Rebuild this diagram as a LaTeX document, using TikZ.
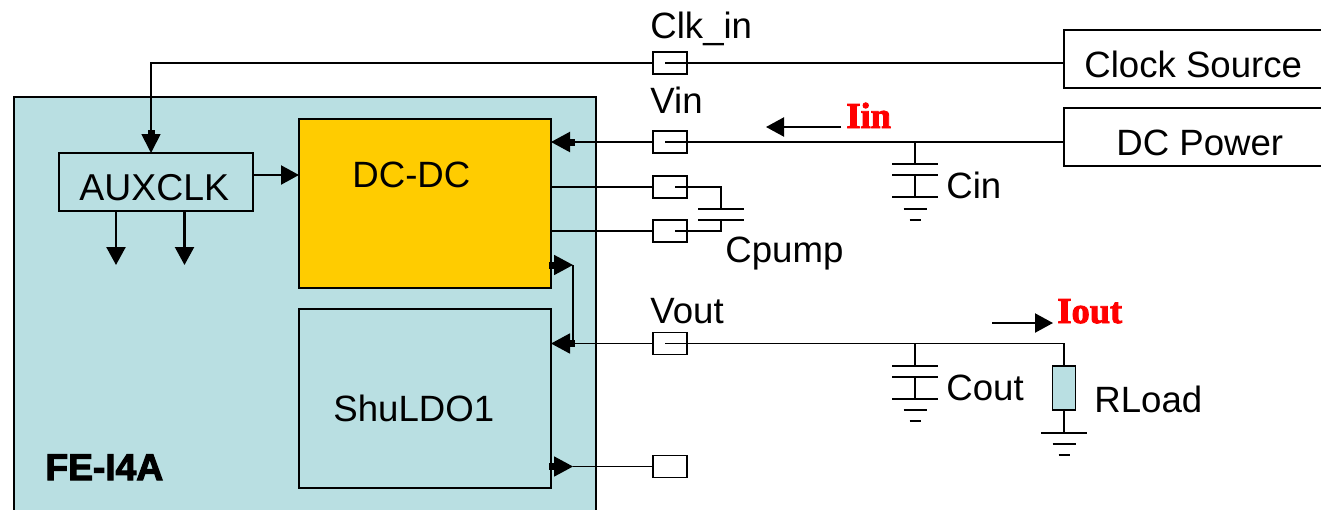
\documentclass[tikz,border=0pt]{standalone}
\usepackage{fontspec}
\setmainfont{Liberation Sans}
\newfontfamily\feifont[FakeBold=3]{Liberation Sans}
\newfontfamily\currfont[FakeBold=2.5]{Liberation Serif}
\usetikzlibrary{arrows.meta}
\definecolor{chipblue}{HTML}{B9DFE2}
\definecolor{dcyellow}{HTML}{FFCC00}
\tikzset{
  wire/.style={black,line width=0.9pt},
  powerwire/.style={black,line width=1.1pt},
  block/.style={draw=black,line width=0.8pt,inner sep=0pt},
  padbox/.style={draw=black,fill=white,line width=0.9pt,inner sep=0pt,minimum width=17pt,minimum height=11pt},
  lbl/.style={anchor=base west,inner sep=0pt,font=\fontsize{18.3}{20}\selectfont},
  curr/.style={anchor=base west,inner sep=0pt,text=red,font=\fontsize{18.2}{20}\currfont\bfseries},
  headed/.style={-{Rectangle[length=2.5pt,width=3.5pt]Triangle[length=9.5pt,width=10pt]}},
  plain/.style={-{Triangle[length=9pt,width=9.5pt]}}
}
\begin{document}
\begin{tikzpicture}[x=0.5pt,y=-0.5pt]
\clip (0,0) rectangle (1321,509);
\node[block,fill=chipblue,minimum width=291pt,minimum height=215pt] (chip) at (305,312) {};
\node[block,minimum width=97pt,minimum height=29pt] (auxclk) at (156,182) {};
\node[block,fill=dcyellow,minimum width=126pt,minimum height=84.5pt] (dcdc) at (425,203.5) {};
\node[block,minimum width=126pt,minimum height=89.5pt] (shuldo) at (425,398.5) {};
\node[block,fill=white,minimum width=140pt,minimum height=29pt] (clksrc) at (1204,59) {};
\node[block,fill=white,minimum width=140pt,minimum height=29pt] (dcpower) at (1204,137) {};
\node[block,fill=chipblue,minimum width=11.5pt,minimum height=22pt] (rload) at (1064,388) {};
\node[padbox] (padclk) at (670,63) {};
\node[padbox] (padvin) at (670,142) {};
\node[padbox] (padcpa) at (670,187) {};
\node[padbox] (padcpb) at (670,231) {};
\node[padbox] (padvout) at (670,343.5) {};
\node[padbox] (padspare) at (670,466.5) {};
\node[lbl,font=\fontsize{18.7}{20}\selectfont] (auxtxt) at (79,200) {AUXCLK};
\node[lbl] (dctxt) at (352,187) {DC-DC};
\node[lbl] (shutxt) at (333,421) {ShuLDO1};
\node[lbl] (srctxt) at (1084,77) {Clock Source};
\node[lbl] (powtxt) at (1116,155) {DC Power};
\node[lbl] (clktxt) at (650,38) {Clk\_in};
\node[lbl] (vintxt) at (650,113) {Vin};
\node[lbl] (vouttxt) at (650,323) {Vout};
\node[lbl] (cptxt) at (725,262) {Cpump};
\node[lbl] (cintxt) at (946,198) {Cin};
\node[lbl] (couttxt) at (946,400) {Cout};
\node[lbl] (rltxt) at (1094,412) {RLoad};
\node[anchor=base west,inner sep=0pt,font=\fontsize{18.6}{20}\feifont\bfseries] (feitxt) at (45,480) {FE-I4A};
\node[curr] (iintxt) at (846,128) {Iin};
\node[curr] (iouttxt) at (1057,323) {Iout};
\coordinate (clkstub) at (665,63);
\coordinate (vinstub) at (665,142);
\coordinate (voutstub) at (665,343.5);
\coordinate (cpastub) at (675,187);
\coordinate (cpbstub) at (675,231);
\coordinate (cptop) at (721,209);
\coordinate (cpbot) at (721,220);
\coordinate (clkdrop) at (151,63);
\coordinate (auxin) at (151,153);
\coordinate (dcclk) at (299,175);
\coordinate (auxout) at (253,175);
\coordinate (auxa) at (116,211);
\coordinate (auxb) at (184.5,211);
\coordinate (auxaend) at (116,265);
\coordinate (auxbend) at (184.5,265);
\coordinate (dcvin) at (551,142);
\coordinate (dca) at (551,187);
\coordinate (dcb) at (551,231);
\coordinate (dcout) at (551,265);
\coordinate (fbtop) at (573,265);
\coordinate (fbbot) at (573,343.5);
\coordinate (shuin) at (551,343.5);
\coordinate (shuout) at (551,466.5);
\coordinate (spareend) at (573,466.5);
\coordinate (srcend) at (1064,63);
\coordinate (powend) at (1064,142);
\coordinate (cinj) at (915,142);
\coordinate (cintop) at (915,164);
\coordinate (cinbot) at (915,175);
\coordinate (cingnd) at (915,197);
\coordinate (coutj) at (915,343.5);
\coordinate (couttop) at (915,366);
\coordinate (coutbot) at (915,377);
\coordinate (coutgnd) at (915,399);
\coordinate (rlcorner) at (1064,343.5);
\coordinate (rlgnd) at (1064,433);
\coordinate (iina) at (841,127);
\coordinate (iinb) at (766,127);
\coordinate (iouta) at (992,323);
\coordinate (ioutb) at (1053,323);
\draw[wire,-{Rectangle[length=2pt,width=3.5pt]Triangle[length=9.5pt,width=9.5pt]}] (padclk.west) -- (clkdrop) -- (auxin);
\draw[wire] (clkstub) -- (srcend);
\draw[wire,plain,line width=1.1pt] (auxout) -- (dcclk);
\draw[wire,plain,line width=1.2pt] (auxa) -- (auxaend);
\draw[wire,plain,line width=1.1pt] (auxb) -- (auxbend);
\draw[powerwire,headed] (padvin.west) -- (dcvin);
\draw[powerwire] (vinstub) -- (powend);
\draw[wire] (dca) -- (padcpa.west);
\draw[wire] (dcb) -- (padcpb.west);
\draw[wire] (cpastub) -- (cpastub -| cptop) -- (cptop);
\draw[wire] (cpbstub) -- (cpbstub -| cpbot) -- (cpbot);
\draw[wire,headed] (dcout) -- (fbtop);
\draw[wire] (fbtop) -- (fbbot);
\draw[wire,headed] (padvout.west) -- (shuin);
\draw[wire] (voutstub) -- (rlcorner) -- (rload.north);
\draw[wire,headed] (shuout) -- (spareend);
\draw[wire] (spareend) -- (padspare.west);
\draw[wire] (rload.south) -- (rlgnd);
\draw[wire] (cinj) -- (cintop);
\draw[wire] (cinbot) -- (cingnd);
\draw[wire] (coutj) -- (couttop);
\draw[wire] (coutbot) -- (coutgnd);
\draw[wire,plain,line width=1.1pt] (iina) -- (iinb);
\draw[wire,plain,line width=1.1pt] (iouta) -- (ioutb);
\foreach \cx/\cy in {721/209,721/220,915/164,915/175,915/197,915/366,915/377,915/399,1064/433}
  \draw[wire] (\cx-23,\cy) -- (\cx+23,\cy);
\foreach \cx/\cy in {915/209,915/410,1064/444}
  \draw[wire] (\cx-11.5,\cy) -- (\cx+11.5,\cy);
\foreach \cx/\cy in {915/220,915/421,1064/455}
  \draw[wire] (\cx-5.5,\cy) -- (\cx+5.5,\cy);
\end{tikzpicture}
\end{document}
